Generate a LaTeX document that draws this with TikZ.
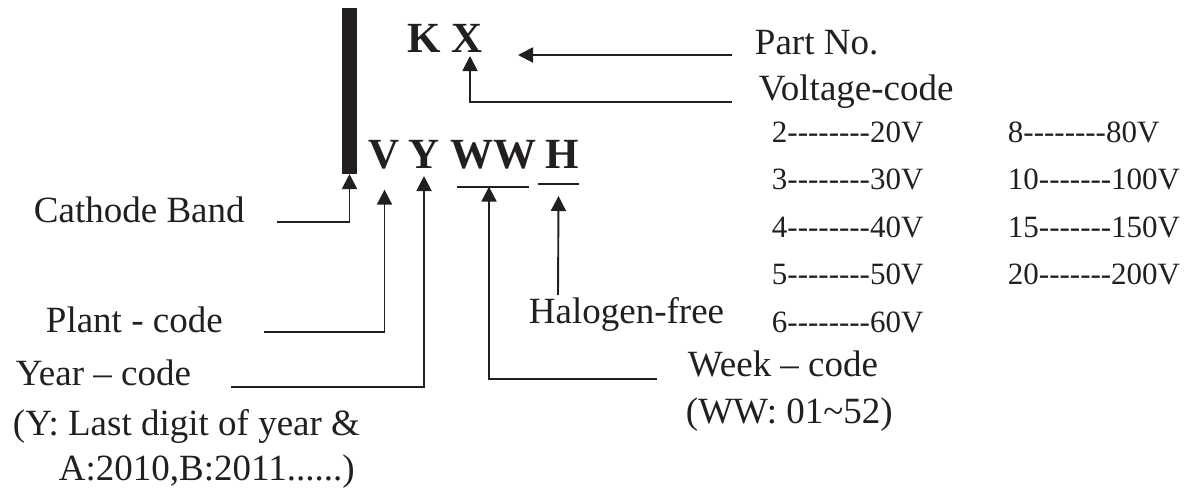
\documentclass[tikz,border=0pt]{standalone}
\usepackage{fontspec}
\setmainfont{Liberation Serif}
\usepackage{tikz}
\usetikzlibrary{arrows.meta}
\definecolor{ink}{HTML}{231F20}
\newcommand{\hy}{\mbox{-}}

\begin{document}
\begin{tikzpicture}[x=1pt,y=-1pt,color=ink,line width=1.9pt,
  >={Triangle[length=15pt,width=15pt]},
  lbl/.style={anchor=base west,inner sep=0pt,font=\fontsize{37}{40}\selectfont},
  tbl/.style={anchor=base west,inner sep=0pt,font=\fontsize{31}{34}\selectfont},
  letter/.style={anchor=base,inner sep=0pt,outer sep=0pt,font=\fontsize{43}{46}\bfseries\selectfont}]
  \useasboundingbox (0,0) rectangle (1193,488);

  \node[fill=ink,minimum width=15pt,minimum height=166pt,inner sep=0pt,outer sep=0pt] (band) at (349.5,91) {};
  \node[letter] (K)  at (424,52)    {K};
  \node[letter] (X)  at (467,52)    {X};
  \node[letter] (V)  at (384.5,168) {V};
  \node[letter] (Y)  at (424,168)   {Y};
  \node[letter] (WW) at (493,168)   {WW};
  \node[letter] (H)  at (562.5,168) {H};

  \node[lbl] (partno)  at (754,54)  {Part No.};
  \node[lbl] (volt)    at (758,100) {Voltage-code};
  \node[lbl] (cathode) at (33,222)  {Cathode Band};
  \node[lbl] (plant)   at (45,332)  {Plant - code};
  \node[lbl] (halogen) at (528,323) {Halogen-free};
  \node[lbl] (year)    at (15,385)  {Year – code};
  \node[lbl] (yearA)   at (12,435)  {(Y: Last digit of year \&};
  \node[lbl] (yearB)   at (58,480)  {A:2010,B:2011......)};
  \node[lbl] (week)    at (687,376) {Week – code};
  \node[lbl] (weekA)   at (685,423) {(WW: 01\textasciitilde 52)};

  \node[tbl] (v2)  at (771,142)  {2\hy\hy\hy\hy\hy\hy\hy\hy20V};
  \node[tbl] (v3)  at (771,189)  {3\hy\hy\hy\hy\hy\hy\hy\hy30V};
  \node[tbl] (v4)  at (771,237)  {4\hy\hy\hy\hy\hy\hy\hy\hy40V};
  \node[tbl] (v5)  at (771,284)  {5\hy\hy\hy\hy\hy\hy\hy\hy50V};
  \node[tbl] (v6)  at (771,332)  {6\hy\hy\hy\hy\hy\hy\hy\hy60V};
  \node[tbl] (v8)  at (1007,142) {8\hy\hy\hy\hy\hy\hy\hy\hy80V};
  \node[tbl] (v10) at (1007,189) {10\hy\hy\hy\hy\hy\hy\hy100V};
  \node[tbl] (v15) at (1007,237) {15\hy\hy\hy\hy\hy\hy\hy150V};
  \node[tbl] (v20) at (1007,284) {20\hy\hy\hy\hy\hy\hy\hy200V};

  \coordinate (pnA) at (732,55);
  \coordinate (pnB) at (518,55);
  \coordinate (vcA) at (732,102);
  \coordinate (cbA) at (277,222);
  \coordinate (pcA) at (264,332);
  \coordinate (ycA) at (231,387);
  \coordinate (wkA) at (657,379);
  \coordinate (hfA) at (558,295);

  \draw ([xshift=7pt,yshift=-18pt]WW.south west) -- ([xshift=-7pt,yshift=-18pt]WW.south east);
  \draw ([xshift=-8pt,yshift=-16pt]H.south west) -- ([yshift=-16pt]H.south east);

  \draw[->] (pnA) -- (pnB);
  \draw[->] (vcA) -| ([xshift=3pt,yshift=-4pt]X.south);
  \draw[->] (cbA) -| (band.south);
  \draw[->] (pcA) -| ([yshift=-21pt]V.south);
  \draw[->] (ycA) -| ([yshift=-8pt]Y.south);
  \draw[->] (wkA) -| ([xshift=-4pt,yshift=-18pt]WW.south);
  \draw[->] (hfA) -- ([xshift=-4pt,yshift=-28pt]H.south);
\end{tikzpicture}
\end{document}
